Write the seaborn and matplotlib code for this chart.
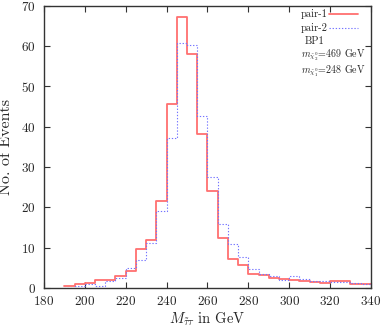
import numpy as np
import pandas as pd
import matplotlib
matplotlib.use("Agg")
import matplotlib.pyplot as plt
import seaborn as sns
from matplotlib.lines import Line2D

# bin edges (5 GeV bins) and event counts
edges = list(range(190, 345, 5))
pair1 = [0.4, 0.9, 1.3, 1.9, 1.9, 2.9, 4.2, 9.7, 11.8, 21.7, 45.7, 67.3, 58.1, 38.1, 24.1,
         12.4, 7.1, 5.8, 3.5, 3.3, 2.6, 2.2, 2.1, 1.8, 1.4, 1.2, 1.7, 1.7, 0.9, 0.9]
pair2 = [0.0, 0.5, 0.9, 0.6, 1.8, 2.6, 4.9, 7.0, 11.1, 19.0, 37.1, 60.7, 60.2, 42.6, 27.5,
         15.9, 10.9, 7.8, 4.8, 3.5, 2.9, 1.9, 2.9, 2.3, 1.7, 1.7, 1.5, 1.5, 1.3, 1.1]
centers = [e + 2.5 for e in edges[:-1]]
df = pd.DataFrame({"m": centers, "pair1": pair1, "pair2": pair2})

sns.set_style("ticks")
plt.rcParams['font.family'] = ['cmr10', 'DejaVu Serif']
plt.rcParams['mathtext.fontset'] = 'cm'
plt.rcParams['axes.formatter.use_mathtext'] = True

fig = plt.figure(figsize=(3.82, 3.28), dpi=100)
ax = fig.add_axes([0.115, 0.122, 0.856, 0.860])

red = '#ff7070'
blue = '#7474ff'
dots = (0, (1.2, 1.6))
sns.histplot(data=df, x="m", weights="pair1", bins=edges, element="step", fill=False,
             color=red, linewidth=1.3, ax=ax)
sns.histplot(data=df, x="m", weights="pair2", bins=edges, element="step", fill=False,
             color=blue, linewidth=0.8, linestyle=dots, ax=ax)

ax.set_xlim(180, 340)
ax.set_ylim(0, 70)
ax.set_xticks(np.arange(180, 341, 20))
ax.set_yticks(np.arange(0, 71, 10))
ax.tick_params(direction='in', top=True, right=True, labelsize=9.5, length=4,
               width=0.8, color='#333333')
ax.tick_params(axis='x', pad=5)
ax.tick_params(axis='y', pad=6)
for s in ax.spines.values():
    s.set_color('#333333')
    s.set_linewidth(1.0)

ax.set_xlabel(r'$M_{\tilde{\tau}\tau}$ in GeV', fontsize=10.5, labelpad=2)
ax.set_ylabel('No. of Events', fontsize=11.5, labelpad=6)

handles = [Line2D([], [], color=red, linewidth=1.3),
           Line2D([], [], color=blue, linewidth=0.8, linestyle=dots)]
ax.legend(handles, ['pair-1', 'pair-2'], loc='upper right', bbox_to_anchor=(0.96, 0.988),
          frameon=False, markerfirst=False, fontsize=7.5, handlelength=2.8,
          handletextpad=0.1, labelspacing=0.4, borderaxespad=0, borderpad=0)

ax.text(0.857, 0.873, 'BP1', transform=ax.transAxes, ha='right', va='center', fontsize=7.5)
ax.text(0.984, 0.818, r'$m_{\tilde{\chi}_2^0}$=469 GeV', transform=ax.transAxes,
        ha='right', va='baseline', fontsize=7.2)
ax.text(0.984, 0.760, r'$m_{\tilde{\chi}_1^0}$=248 GeV', transform=ax.transAxes,
        ha='right', va='baseline', fontsize=7.2)

fig.savefig('out.png', dpi=100)
